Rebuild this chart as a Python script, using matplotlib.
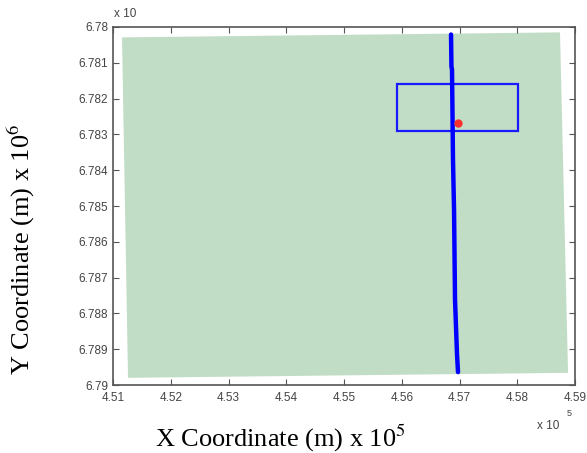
import matplotlib
matplotlib.use('Agg')
import matplotlib.pyplot as plt
from matplotlib.patches import Polygon, Rectangle

plt.rcParams['mathtext.fontset'] = 'stix'

# survey area (x in 1e5 m, y in 1e6 m)
area_x = [4.51156, 4.5874, 4.58879, 4.5126]
area_y = [6.78029, 6.78015, 6.78966, 6.7898]

# vessel track
track_x = [4.56853, 4.5686, 4.5687, 4.56887, 4.56905, 4.56922, 4.56957, 4.56974]
track_y = [6.78021, 6.78110, 6.78119, 6.78371, 6.78510, 6.78762, 6.78916, 6.78964]

# zoom window and current position
box_x = [4.5592, 4.5801]
box_y = [6.7816, 6.7829]
pos_x = [4.56969]
pos_y = [6.78268]

xticks = [4.51, 4.52, 4.53, 4.54, 4.55, 4.56, 4.57, 4.58, 4.59]
xticklabels = ['4.51', '4.52', '4.53', '4.54', '4.55', '4.56', '4.57', '4.58', '4.59']
yticks = [6.78, 6.781, 6.782, 6.783, 6.784, 6.785, 6.786, 6.787, 6.788, 6.789, 6.79]
yticklabels = ['6.78', '6.781', '6.782', '6.783', '6.784', '6.785', '6.786',
               '6.787', '6.788', '6.789', '6.79']

fig = plt.figure(figsize=(5.87, 4.53), dpi=100)
ax = fig.add_axes([0.1925, 0.1501, 0.7871, 0.7903])

ax.add_patch(Polygon(list(zip(area_x, area_y)), closed=True,
                     facecolor='#c2ddc6', edgecolor='none'))
ax.plot(track_x, track_y, color='#0000ff', lw=3.2, solid_capstyle='round')
ax.add_patch(Rectangle((box_x[0], box_y[0]), box_x[1] - box_x[0], box_y[1] - box_y[0],
                       fill=False, edgecolor='#1a1aff', lw=1.6))
ax.plot(pos_x, pos_y, 'o', color='#ff3030', ms=6, mec='none')

ax.set_xlim(4.51, 4.59)
ax.set_ylim(6.79, 6.78)
ax.set_xticks(xticks)
ax.set_xticklabels(xticklabels)
ax.set_yticks(yticks)
ax.set_yticklabels(yticklabels)

ax.tick_params(direction='in', length=4, width=0.8, colors='#555555',
               labelsize=8.5, labelcolor='#444444', top=True, right=True)
ax.tick_params(axis='x', pad=5)
for s in ax.spines.values():
    s.set_color('#555555')
    s.set_linewidth(1.2)
for lbl in ax.get_xticklabels() + ax.get_yticklabels():
    lbl.set_family('Liberation Sans')

fig.text(0.195, 0.963, 'x 10', fontsize=8.5, color='#444444', family='Liberation Sans')
fig.text(0.915, 0.053, 'x 10', fontsize=8.5, color='#444444', family='Liberation Sans')
fig.text(0.965, 0.082, '5', fontsize=6.5, color='#444444', family='Liberation Sans')

fig.text(0.478, 0.033, r'X Coordinate (m) x 10$^5$', ha='center', va='center',
         fontsize=19, family='Liberation Serif')
fig.text(0.037, 0.45, r'Y Coordinate (m) x 10$^6$', ha='center', va='center',
         rotation=90, fontsize=19, family='Liberation Serif')

fig.savefig('out.png', dpi=100)
